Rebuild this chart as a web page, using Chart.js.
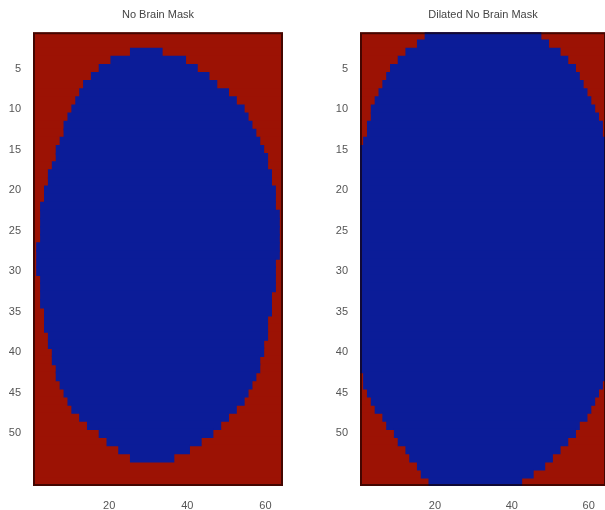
<!DOCTYPE html>
<html>
<head>
<meta charset="utf-8">
<script src="https://cdn.jsdelivr.net/npm/chart.js@4"></script>
<style>
  html, body { margin: 0; padding: 0; background: #fff; overflow: hidden; }
  body { width: 605px; height: 510px; position: relative; }
  .painel { position: absolute; top: 0; height: 510px; }
  #maskChart { left: 0; width: 300px; }
  #dilatedChart { left: 300px; width: 310px; }
</style>
</head>
<body>
<canvas id="maskChart" class="painel" width="300" height="510"></canvas>
<canvas id="dilatedChart" class="painel" width="310" height="510"></canvas>
<script>
// linhas da imagem (1..56) e colunas (1..64)
const linhas = Array.from({ length: 56 }, (_, i) => String(i + 1));
const numColunas = 64;
const ticksX = [20, 40, 60];
const ticksY = [5, 10, 15, 20, 25, 30, 35, 40, 45, 50];

// primeira e ultima coluna azul (valor 0) em cada linha, null = linha toda vermelha
const mascaraInicio = [
  null, null, 26, 21, 18, 16, 14, 13, 12, 11,
  10, 9, 9, 8, 7, 7, 6, 5, 5, 4,
  4, 3, 3, 3, 3, 3, 2, 2, 2, 2,
  3, 3, 3, 3, 4, 4, 4, 5, 5, 6,
  6, 7, 7, 8, 9, 10, 11, 13, 15, 18,
  20, 23, 26, null, null, null
];
const mascaraFim = [
  null, null, 33, 39, 42, 45, 47, 50, 52, 54,
  55, 56, 57, 58, 59, 60, 60, 61, 61, 62,
  62, 62, 63, 63, 63, 63, 63, 63, 62, 62,
  62, 62, 61, 61, 61, 60, 60, 60, 59, 59,
  58, 58, 57, 56, 55, 54, 52, 50, 48, 46,
  43, 40, 36, null, null, null
];

const dilatadaInicio = [
  18, 16, 13, 11, 9, 8, 7, 6, 5, 4,
  4, 3, 3, 2, 1, 1, 1, 1, 1, 1,
  1, 1, 1, 1, 1, 1, 1, 1, 1, 1,
  1, 1, 1, 1, 1, 1, 1, 1, 1, 1,
  1, 1, 2, 2, 3, 4, 5, 7, 8, 10,
  11, 13, 14, 16, 17, 19
];
const dilatadaFim = [
  47, 49, 52, 54, 56, 57, 58, 59, 60, 61,
  62, 63, 63, 64, 64, 64, 64, 64, 64, 64,
  64, 64, 64, 64, 64, 64, 64, 64, 64, 64,
  64, 64, 64, 64, 64, 64, 64, 64, 64, 64,
  64, 64, 64, 63, 62, 61, 60, 59, 57, 56,
  54, 52, 50, 48, 45, 42
];

const VERMELHO = '#9c1204';
const AZUL = '#0b1c98';

// moldura escura em volta da imagem
const moldura = {
  id: 'moldura',
  afterDatasetsDraw(chart) {
    const { ctx, chartArea: a } = chart;
    ctx.save();
    ctx.strokeStyle = 'rgba(20,0,0,0.65)';
    ctx.lineWidth = 2;
    ctx.strokeRect(a.left + 1, a.top + 1, a.right - a.left - 2, a.bottom - a.top - 2);
    ctx.restore();
  }
};

function montarFaixas(inicio, fim) {
  return inicio.map((ini, i) => (ini === null ? null : [ini - 0.5, fim[i] + 0.5]));
}

function gerarMascara(id, titulo, inicio, fim, larguraEixoY, paddingDir) {
  const ctx = document.getElementById(id).getContext('2d');
  const fonte = { family: 'Liberation Sans, Arial, sans-serif', size: 11 };

  new Chart(ctx, {
    type: 'bar',
    data: {
      labels: linhas,
      datasets: [
        {
          data: montarFaixas(inicio, fim),
          backgroundColor: AZUL,
          order: 1
        },
        {
          data: linhas.map(() => [0.5, numColunas + 0.5]),
          backgroundColor: VERMELHO,
          order: 2
        }
      ]
    },
    options: {
      indexAxis: 'y',
      responsive: false,
      animation: false,
      grouped: false,
      barPercentage: 1,
      categoryPercentage: 1,
      borderWidth: 0,
      inflateAmount: 0.7,
      layout: { padding: { left: 0, right: paddingDir, top: 0, bottom: 0 } },
      scales: {
        x: {
          type: 'linear',
          min: 0.5,
          max: numColunas + 0.5,
          grid: { display: false },
          border: { display: false },
          afterBuildTicks: scale => { scale.ticks = ticksX.map(v => ({ value: v })); },
          afterFit: scale => { scale.height = 24; },
          ticks: { color: '#555', font: fonte, padding: 5, maxRotation: 0 }
        },
        y: {
          grid: { display: false },
          border: { display: false },
          afterFit: scale => { scale.width = larguraEixoY; },
          ticks: {
            autoSkip: false,
            color: '#555',
            font: fonte,
            padding: 4,
            callback: function (valor) {
              const lab = Number(this.getLabelForValue(valor));
              return ticksY.includes(lab) ? lab : '';
            }
          }
        }
      },
      plugins: {
        legend: { display: false },
        tooltip: { enabled: false },
        title: {
          display: true,
          text: titulo,
          fullSize: false,
          color: '#444',
          font: { family: 'Liberation Sans, Arial, sans-serif', size: 11, weight: 'normal' },
          padding: { top: 8, bottom: 11 }
        }
      }
    },
    plugins: [moldura]
  });
}

gerarMascara('maskChart', 'No Brain Mask', mascaraInicio, mascaraFim, 33, 17);
gerarMascara('dilatedChart', 'Dilated No Brain Mask', dilatadaInicio, dilatadaFim, 60, 4);
</script>
</body>
</html>
